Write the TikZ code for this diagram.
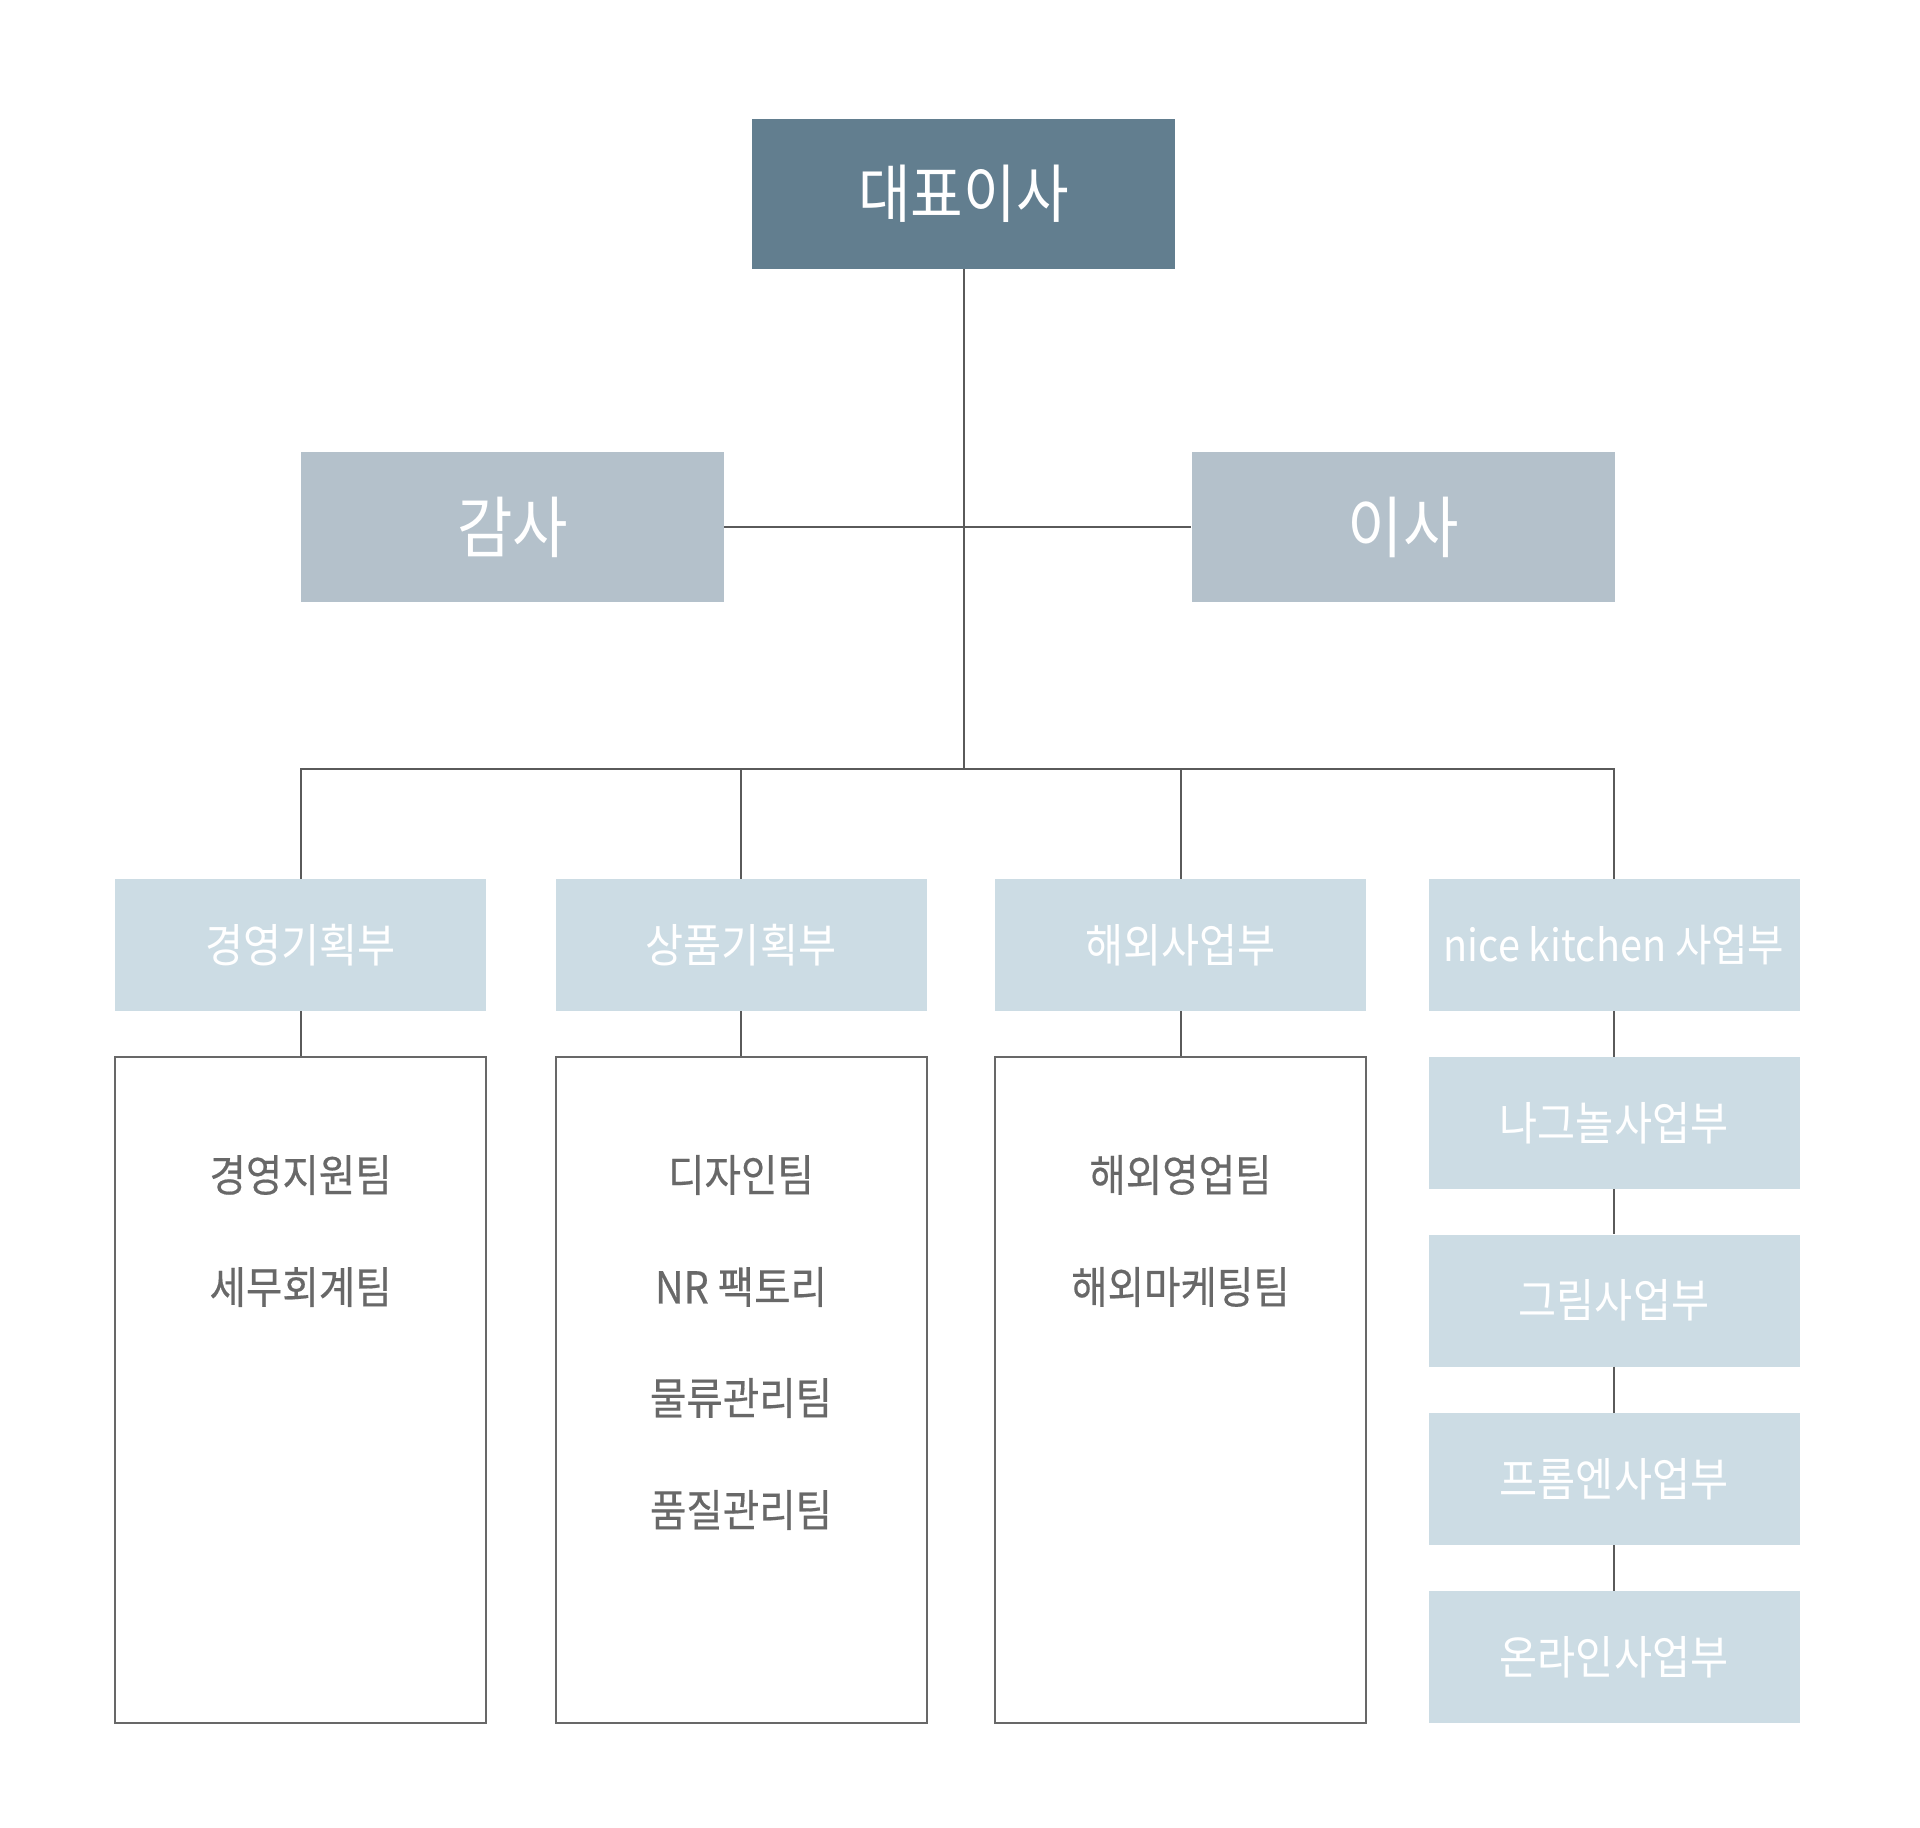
\documentclass[tikz,border=0pt]{standalone}
\usepackage{fontspec}
\setmainfont{Noto Sans CJK KR}[FakeStretch=0.9]
\usepackage{tikz}
\definecolor{ceoblue}{RGB}{98,126,143}
\definecolor{execgray}{RGB}{180,193,203}
\definecolor{deptblue}{RGB}{204,220,228}
\definecolor{linegray}{RGB}{90,90,90}
\definecolor{teamgray}{RGB}{104,104,104}

\tikzset{
  box/.style={inner sep=0pt,text=white},
  ceobox/.style={box,fill=ceoblue,minimum width=423pt,minimum height=150pt,font=\fontsize{63.5}{72}\selectfont},
  execbox/.style={box,fill=execgray,minimum width=423pt,minimum height=150pt,font=\fontsize{67}{76}\selectfont},
  deptbox/.style={box,fill=deptblue,minimum width=371pt,minimum height=132pt,font=\fontsize{46}{54}\selectfont},
  teambox/.style={draw=teamgray,line width=2pt,fill=white,inner sep=0pt,minimum width=371pt,minimum height=666pt},
  team/.style={inner sep=0pt,text=teamgray,font=\fontsize{44}{52}\selectfont\addfontfeature{FakeBold=0.4}},
  link/.style={draw=linegray,line width=2pt}
}

\begin{document}
\begin{tikzpicture}[x=1pt,y=-1pt]
			\useasboundingbox[fill=white] (0,0) rectangle (1920,1828);
			\coordinate (bus) at (963.5,769);
			\coordinate (c_1) at (300.6,0);
			\coordinate (c_2) at (741,0);
			\coordinate (c_3) at (1180.5,0);
			\coordinate (c_4) at (1614,0);
			% top levels
			\node[ceobox] (ceo) at (963.5,194) {대표이사};
			\node[execbox] (audit) at (512.5,527) {감사};
			\node[execbox] (director) at (1403,527) {이사};
			% departments
			\node[deptbox] (d_1) at (c_1 |- 0,945) {경영기획부};
			\node[deptbox] (d_2) at (c_2 |- 0,945) {상품기획부};
			\node[deptbox] (d_3) at (c_3 |- 0,945) {해외사업부};
			\node[deptbox,font=\fontsize{44}{52}\selectfont] (d_4) at (c_4 |- 0,945) {nice kitchen 사업부};
			% team boxes
			\node[teambox] (box_1) at (c_1 |- 0,1390) {};
			\node[teambox] (box_2) at (c_2 |- 0,1390) {};
			\node[teambox] (box_3) at (c_3 |- 0,1390) {};
			\node[team] (t_11) at (c_1 |- 0,1175) {경영지원팀};
			\node[team] (t_12) at (c_1 |- 0,1287) {세무회계팀};
			\node[team] (t_21) at (c_2 |- 0,1175) {디자인팀};
			\node[team] (t_22) at (c_2 |- 0,1287) {NR 팩토리};
			\node[team] (t_23) at (c_2 |- 0,1398) {물류관리팀};
			\node[team] (t_24) at (c_2 |- 0,1510) {품질관리팀};
			\node[team] (t_31) at (c_3 |- 0,1175) {해외영업팀};
			\node[team] (t_32) at (c_3 |- 0,1287) {해외마케팅팀};
			% nice kitchen column
			\node[deptbox] (s_1) at (c_4 |- 0,1123) {나그놀사업부};
			\node[deptbox] (s_2) at (c_4 |- 0,1300.5) {그림사업부};
			\node[deptbox] (s_3) at (c_4 |- 0,1479) {프롬엔사업부};
			\node[deptbox] (s_4) at (c_4 |- 0,1657) {온라인사업부};
			% connectors
			\draw[link] (ceo.south) -- (bus);
			\draw[link] (audit.east) -- (director.west);
			\draw[link] (d_1.north) |- (bus) -| (d_4.north);
			\draw[link] (bus) -| (d_2.north);
			\draw[link] (bus) -| (d_3.north);
			\draw[link] (d_1.south) -- (box_1.north);
			\draw[link] (d_2.south) -- (box_2.north);
			\draw[link] (d_3.south) -- (box_3.north);
			\draw[link] (d_4.south) -- (s_1.north);
			\draw[link] (s_1.south) -- (s_2.north);
			\draw[link] (s_2.south) -- (s_3.north);
			\draw[link] (s_3.south) -- (s_4.north);
		\end{tikzpicture}
\end{document}
